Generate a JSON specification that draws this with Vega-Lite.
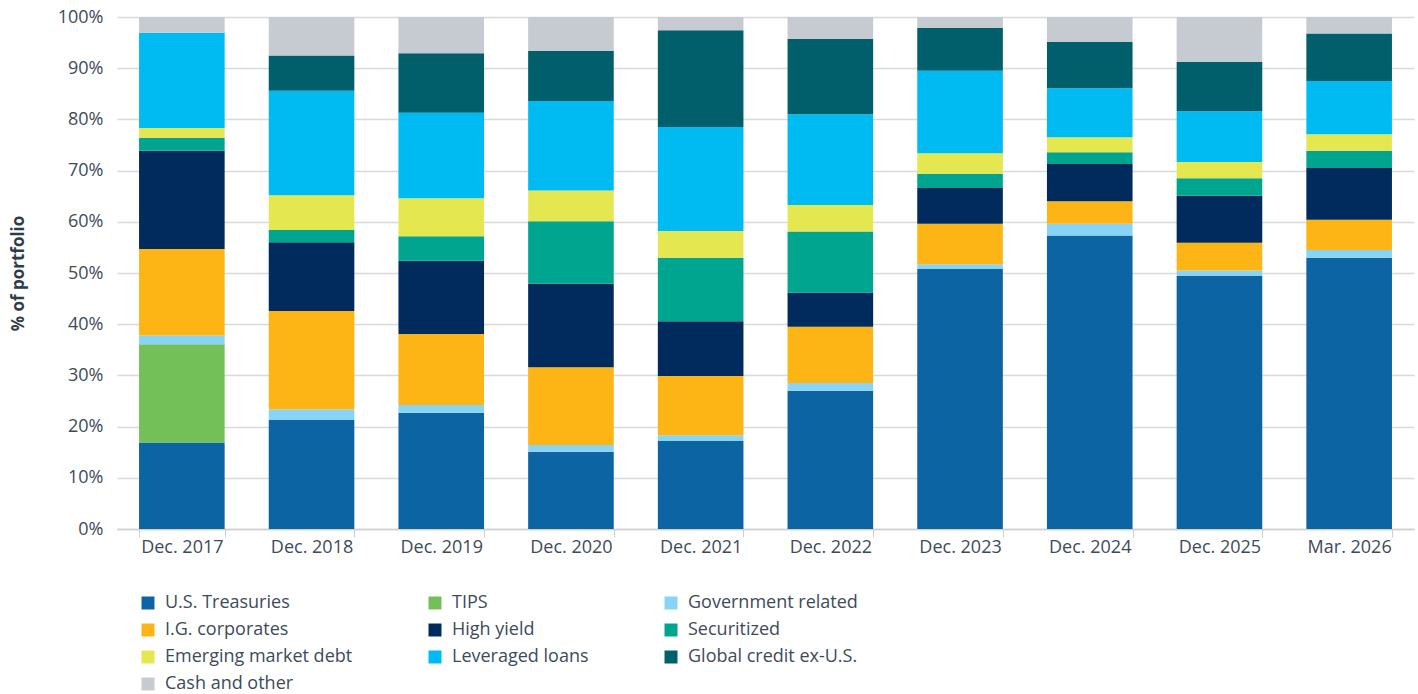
{
  "$schema": "https://vega.github.io/schema/vega-lite/v6.json",
  "autosize": "none",
  "width": 1297,
  "height": 512,
  "padding": {"left": 117, "top": 17, "right": 4, "bottom": 165},
  "background": "white",
  "config": {
    "view": {"stroke": null},
    "font": "Open Sans"
  },
  "data": {
    "values": [
      {"period": "Dec. 2017", "sector": "U.S. Treasuries", "pct": 16.9},
      {"period": "Dec. 2017", "sector": "TIPS", "pct": 19.2},
      {"period": "Dec. 2017", "sector": "Government related", "pct": 1.7},
      {"period": "Dec. 2017", "sector": "I.G. corporates", "pct": 16.9},
      {"period": "Dec. 2017", "sector": "High yield", "pct": 19.2},
      {"period": "Dec. 2017", "sector": "Securitized", "pct": 2.5},
      {"period": "Dec. 2017", "sector": "Emerging market debt", "pct": 1.9},
      {"period": "Dec. 2017", "sector": "Leveraged loans", "pct": 18.6},
      {"period": "Dec. 2017", "sector": "Cash and other", "pct": 3.1},

      {"period": "Dec. 2018", "sector": "U.S. Treasuries", "pct": 21.3},
      {"period": "Dec. 2018", "sector": "Government related", "pct": 2.1},
      {"period": "Dec. 2018", "sector": "I.G. corporates", "pct": 19.2},
      {"period": "Dec. 2018", "sector": "High yield", "pct": 13.4},
      {"period": "Dec. 2018", "sector": "Securitized", "pct": 2.4},
      {"period": "Dec. 2018", "sector": "Emerging market debt", "pct": 6.8},
      {"period": "Dec. 2018", "sector": "Leveraged loans", "pct": 20.4},
      {"period": "Dec. 2018", "sector": "Global credit ex-U.S.", "pct": 6.9},
      {"period": "Dec. 2018", "sector": "Cash and other", "pct": 7.5},

      {"period": "Dec. 2019", "sector": "U.S. Treasuries", "pct": 22.7},
      {"period": "Dec. 2019", "sector": "Government related", "pct": 1.5},
      {"period": "Dec. 2019", "sector": "I.G. corporates", "pct": 13.9},
      {"period": "Dec. 2019", "sector": "High yield", "pct": 14.3},
      {"period": "Dec. 2019", "sector": "Securitized", "pct": 4.8},
      {"period": "Dec. 2019", "sector": "Emerging market debt", "pct": 7.4},
      {"period": "Dec. 2019", "sector": "Leveraged loans", "pct": 16.7},
      {"period": "Dec. 2019", "sector": "Global credit ex-U.S.", "pct": 11.6},
      {"period": "Dec. 2019", "sector": "Cash and other", "pct": 7.1},

      {"period": "Dec. 2020", "sector": "U.S. Treasuries", "pct": 15.1},
      {"period": "Dec. 2020", "sector": "Government related", "pct": 1.3},
      {"period": "Dec. 2020", "sector": "I.G. corporates", "pct": 15.2},
      {"period": "Dec. 2020", "sector": "High yield", "pct": 16.3},
      {"period": "Dec. 2020", "sector": "Securitized", "pct": 12.2},
      {"period": "Dec. 2020", "sector": "Emerging market debt", "pct": 6.0},
      {"period": "Dec. 2020", "sector": "Leveraged loans", "pct": 17.5},
      {"period": "Dec. 2020", "sector": "Global credit ex-U.S.", "pct": 9.8},
      {"period": "Dec. 2020", "sector": "Cash and other", "pct": 6.6},

      {"period": "Dec.  2021", "sector": "U.S. Treasuries", "pct": 17.2},
      {"period": "Dec.  2021", "sector": "Government related", "pct": 1.1},
      {"period": "Dec.  2021", "sector": "I.G. corporates", "pct": 11.6},
      {"period": "Dec.  2021", "sector": "High yield", "pct": 10.7},
      {"period": "Dec.  2021", "sector": "Securitized", "pct": 12.4},
      {"period": "Dec.  2021", "sector": "Emerging market debt", "pct": 5.2},
      {"period": "Dec.  2021", "sector": "Leveraged loans", "pct": 20.3},
      {"period": "Dec.  2021", "sector": "Global credit ex-U.S.", "pct": 18.9},
      {"period": "Dec.  2021", "sector": "Cash and other", "pct": 2.6},

      {"period": "Dec. 2022", "sector": "U.S. Treasuries", "pct": 27.0},
      {"period": "Dec. 2022", "sector": "Government related", "pct": 1.5},
      {"period": "Dec. 2022", "sector": "I.G. corporates", "pct": 11.0},
      {"period": "Dec. 2022", "sector": "High yield", "pct": 6.7},
      {"period": "Dec. 2022", "sector": "Securitized", "pct": 11.9},
      {"period": "Dec. 2022", "sector": "Emerging market debt", "pct": 5.2},
      {"period": "Dec. 2022", "sector": "Leveraged loans", "pct": 17.7},
      {"period": "Dec. 2022", "sector": "Global credit ex-U.S.", "pct": 14.7},
      {"period": "Dec. 2022", "sector": "Cash and other", "pct": 4.3},

      {"period": "Dec. 2023", "sector": "U.S. Treasuries", "pct": 50.8},
      {"period": "Dec. 2023", "sector": "Government related", "pct": 0.9},
      {"period": "Dec. 2023", "sector": "I.G. corporates", "pct": 7.9},
      {"period": "Dec. 2023", "sector": "High yield", "pct": 7.0},
      {"period": "Dec. 2023", "sector": "Securitized", "pct": 2.8},
      {"period": "Dec. 2023", "sector": "Emerging market debt", "pct": 4.0},
      {"period": "Dec. 2023", "sector": "Leveraged loans", "pct": 16.1},
      {"period": "Dec. 2023", "sector": "Global credit ex-U.S.", "pct": 8.4},
      {"period": "Dec. 2023", "sector": "Cash and other", "pct": 2.1},

      {"period": "Dec. 2024", "sector": "U.S. Treasuries", "pct": 57.3},
      {"period": "Dec. 2024", "sector": "Government related", "pct": 2.3},
      {"period": "Dec. 2024", "sector": "I.G. corporates", "pct": 4.4},
      {"period": "Dec. 2024", "sector": "High yield", "pct": 7.3},
      {"period": "Dec. 2024", "sector": "Securitized", "pct": 2.3},
      {"period": "Dec. 2024", "sector": "Emerging market debt", "pct": 2.9},
      {"period": "Dec. 2024", "sector": "Leveraged loans", "pct": 9.6},
      {"period": "Dec. 2024", "sector": "Global credit ex-U.S.", "pct": 9.0},
      {"period": "Dec. 2024", "sector": "Cash and other", "pct": 4.9},

      {"period": "Dec. 2025", "sector": "U.S. Treasuries", "pct": 49.4},
      {"period": "Dec. 2025", "sector": "Government related", "pct": 1.1},
      {"period": "Dec. 2025", "sector": "I.G. corporates", "pct": 5.4},
      {"period": "Dec. 2025", "sector": "High yield", "pct": 9.2},
      {"period": "Dec. 2025", "sector": "Securitized", "pct": 3.4},
      {"period": "Dec. 2025", "sector": "Emerging market debt", "pct": 3.2},
      {"period": "Dec. 2025", "sector": "Leveraged loans", "pct": 9.9},
      {"period": "Dec. 2025", "sector": "Global credit ex-U.S.", "pct": 9.6},
      {"period": "Dec. 2025", "sector": "Cash and other", "pct": 8.8},

      {"period": "Mar. 2026", "sector": "U.S. Treasuries", "pct": 53.0},
      {"period": "Mar. 2026", "sector": "Government related", "pct": 1.5},
      {"period": "Mar. 2026", "sector": "I.G. corporates", "pct": 5.9},
      {"period": "Mar. 2026", "sector": "High yield", "pct": 10.1},
      {"period": "Mar. 2026", "sector": "Securitized", "pct": 3.4},
      {"period": "Mar. 2026", "sector": "Emerging market debt", "pct": 3.2},
      {"period": "Mar. 2026", "sector": "Leveraged loans", "pct": 10.4},
      {"period": "Mar. 2026", "sector": "Global credit ex-U.S.", "pct": 9.3},
      {"period": "Mar. 2026", "sector": "Cash and other", "pct": 3.2}
    ]
  },
  "transform": [
    {"calculate": "indexof(['U.S. Treasuries', 'TIPS', 'Government related', 'I.G. corporates', 'High yield', 'Securitized', 'Emerging market debt', 'Leveraged loans', 'Global credit ex-U.S.', 'Cash and other'], datum.sector)", "as": "stackOrder"}
  ],
  "mark": {"type": "bar"},
  "encoding": {
    "x": {
      "field": "period",
      "type": "nominal",
      "sort": null,
      "scale": {"paddingInner": 0.34, "paddingOuter": 0.17},
      "axis": {
        "title": null,
        "labelAngle": 0,
        "labelFontSize": 18,
        "labelColor": "#3d4b59",
        "labelPadding": 1,
        "tickBand": "extent",
        "tickColor": "#cfcfcf",
        "tickSize": 8,
        "domainColor": "#cfcfcf",
        "domainWidth": 1.5
      }
    },
    "y": {
      "field": "pct",
      "type": "quantitative",
      "stack": "zero",
      "scale": {"domain": [0, 100], "nice": false},
      "axis": {
        "title": "% of portfolio",
        "titleFontSize": 17,
        "titleFontWeight": "bold",
        "titleColor": "#2f3c49",
        "titlePadding": 30,
        "values": [0, 10, 20, 30, 40, 50, 60, 70, 80, 90, 100],
        "labelExpr": "datum.value + '%'",
        "labelFontSize": 18,
        "labelColor": "#3d4b59",
        "labelPadding": 14,
        "domain": false,
        "ticks": false,
        "grid": true,
        "gridColor": "#d9d9d9",
        "gridWidth": 1.5
      }
    },
    "color": {
      "field": "sector",
      "type": "nominal",
      "scale": {
        "domain": ["U.S. Treasuries", "TIPS", "Government related", "I.G. corporates", "High yield", "Securitized", "Emerging market debt", "Leveraged loans", "Global credit ex-U.S.", "Cash and other"],
        "range": ["#0d64a3", "#74c058", "#87d4f6", "#fdb415", "#002b5c", "#00a58f", "#e4e74f", "#00bbf1", "#005f6b", "#c6cad1"]
      },
      "legend": {
        "title": null,
        "orient": "none",
        "legendX": 22,
        "legendY": 577,
        "columns": 3,
        "direction": "horizontal",
        "symbolType": "square",
        "symbolSize": 169,
        "symbolStrokeWidth": 0,
        "labelFontSize": 18,
        "labelLimit": 400,
        "labelColor": "#3d4b59",
        "labelOffset": 8,
        "rowPadding": 9,
        "columnPadding": 73,
        "padding": 0
      }
    },
    "order": {"field": "stackOrder", "type": "quantitative", "sort": "ascending"}
  }
}
